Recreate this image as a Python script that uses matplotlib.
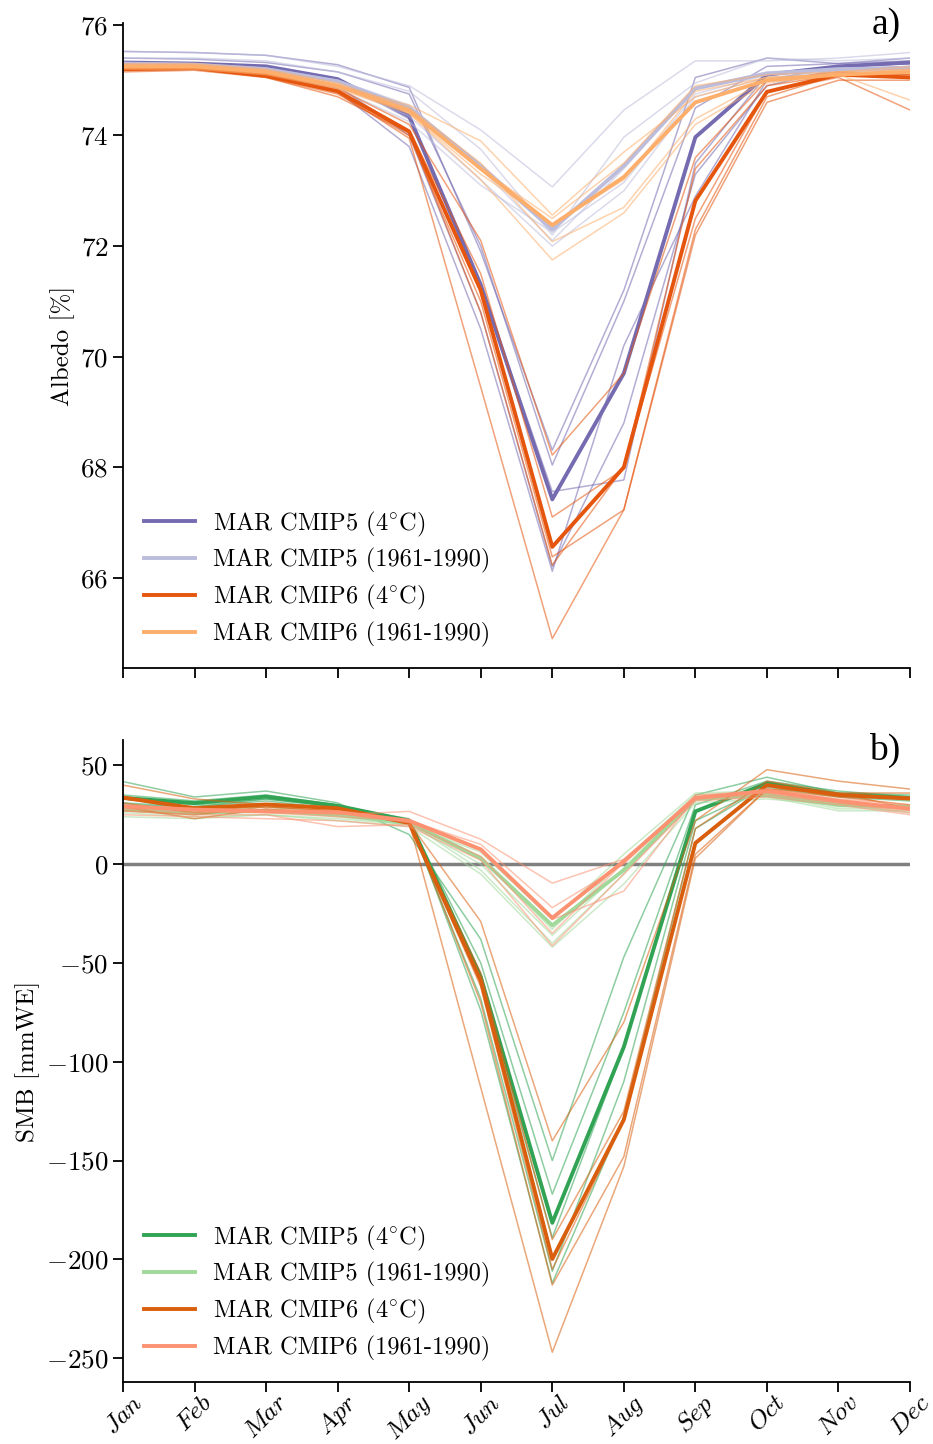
import matplotlib
matplotlib.use("Agg")
import matplotlib.pyplot as plt
import numpy as np

plt.rcParams['font.family'] = ['cmr10']
plt.rcParams['mathtext.fontset'] = 'cm'
plt.rcParams['axes.formatter.use_mathtext'] = True
plt.rcParams['axes.unicode_minus'] = True

months = ['Jan', 'Feb', 'Mar', 'Apr', 'May', 'Jun', 'Jul', 'Aug', 'Sep', 'Oct', 'Nov', 'Dec']

# ---------------- Albedo (panel a) ----------------
alb_c5_fut_mean = [75.32, 75.30, 75.25, 75.02, 74.35, 71.30, 67.42, 69.70, 73.97, 75.10, 75.25, 75.32]
alb_c5_hist_mean = [75.30, 75.28, 75.20, 74.98, 74.50, 73.45, 72.30, 73.45, 74.85, 75.12, 75.20, 75.22]
alb_c6_fut_mean = [75.20, 75.22, 75.08, 74.80, 74.07, 71.20, 66.56, 68.00, 72.82, 74.79, 75.10, 75.05]
alb_c6_hist_mean = [75.25, 75.25, 75.15, 74.90, 74.45, 73.40, 72.38, 73.25, 74.60, 75.00, 75.10, 75.15]

alb_c5_fut_models = [
    [75.52, 75.50, 75.45, 75.28, 74.87, 71.90, 68.31, 71.20, 75.05, 75.40, 75.30, 75.35],
    [75.40, 75.38, 75.32, 75.15, 74.75, 72.00, 68.04, 71.00, 74.50, 75.25, 75.30, 75.40],
    [75.30, 75.28, 75.22, 75.00, 74.30, 71.30, 67.56, 67.77, 73.50, 75.10, 75.25, 75.30],
    [75.25, 75.25, 75.18, 74.90, 74.00, 70.80, 66.20, 68.80, 73.30, 74.90, 75.20, 75.25],
    [75.20, 75.20, 75.12, 74.80, 73.80, 70.50, 66.12, 70.20, 72.90, 75.00, 75.25, 75.30],
]
alb_c5_hist_models = [
    [75.52, 75.50, 75.45, 75.25, 74.90, 74.10, 73.07, 74.46, 75.35, 75.35, 75.40, 75.50],
    [75.40, 75.40, 75.35, 75.15, 74.80, 73.75, 72.20, 73.97, 74.95, 75.40, 75.35, 75.40],
    [75.32, 75.30, 75.22, 75.00, 74.55, 73.40, 72.10, 73.40, 74.85, 75.15, 75.20, 75.25],
    [75.25, 75.25, 75.15, 74.90, 74.35, 73.20, 72.00, 73.00, 74.70, 75.05, 75.15, 75.15],
    [75.20, 75.20, 75.10, 74.85, 74.25, 73.10, 72.25, 73.15, 74.75, 75.10, 75.15, 75.20],
]
alb_c6_fut_models = [
    [75.25, 75.25, 75.12, 74.85, 74.20, 72.10, 68.22, 69.70, 73.60, 75.00, 75.15, 75.10],
    [75.22, 75.22, 75.10, 74.82, 74.10, 71.50, 67.10, 67.97, 73.40, 74.90, 75.10, 75.05],
    [75.18, 75.20, 75.05, 74.75, 74.00, 71.00, 66.38, 67.23, 72.20, 74.60, 75.00, 75.00],
    [75.15, 75.18, 75.05, 74.70, 74.05, 70.80, 66.23, 68.00, 72.50, 74.80, 75.05, 74.46],
    [75.20, 75.22, 75.08, 74.78, 73.95, 69.45, 64.90, 67.23, 72.30, 74.70, 75.10, 75.10],
]
alb_c6_hist_models = [
    [75.25, 75.25, 75.15, 74.90, 74.55, 73.90, 72.56, 73.70, 74.70, 75.05, 75.10, 74.64],
    [75.30, 75.30, 75.20, 74.95, 74.50, 73.50, 72.08, 72.70, 74.30, 75.00, 75.15, 75.20],
    [75.20, 75.20, 75.10, 74.85, 74.40, 73.20, 71.75, 72.60, 74.20, 74.95, 75.10, 75.15],
    [75.22, 75.22, 75.12, 74.88, 74.40, 73.30, 72.40, 73.20, 74.80, 75.05, 75.10, 75.20],
    [75.28, 75.28, 75.18, 74.92, 74.45, 73.40, 72.50, 73.50, 74.90, 75.10, 75.15, 75.25],
]

# ---------------- SMB (panel b) ----------------
smb_c5_fut_mean = [33.5, 30.9, 34.2, 29.5, 22.0, -57.0, -181.5, -92.5, 26.7, 40.9, 35.2, 33.5]
smb_c5_hist_mean = [28.0, 26.0, 27.0, 25.0, 21.0, 3.0, -31.0, -3.0, 33.0, 35.0, 30.0, 29.0]
smb_c6_fut_mean = [33.7, 28.3, 30.2, 28.3, 20.8, -59.0, -199.8, -129.3, 10.7, 40.0, 35.0, 33.2]
smb_c6_hist_mean = [29.2, 27.6, 26.7, 26.3, 22.0, 7.5, -27.2, 1.5, 33.5, 37.0, 32.0, 28.0]

smb_c5_fut_models = [
    [41.8, 34.0, 37.0, 31.0, 15.0, -38.0, -150.0, -47.0, 35.0, 44.0, 36.0, 35.0],
    [35.0, 32.0, 35.0, 30.0, 22.0, -50.0, -167.0, -75.0, 30.0, 42.0, 37.0, 34.0],
    [33.0, 30.0, 33.0, 29.0, 22.0, -60.0, -189.0, -93.0, 27.0, 40.0, 35.0, 33.0],
    [31.0, 29.0, 32.0, 28.0, 21.0, -68.0, -206.0, -110.0, 22.0, 39.0, 34.0, 32.0],
    [30.0, 29.0, 33.0, 29.0, 23.0, -74.0, -212.0, -128.0, 18.0, 40.0, 35.0, 33.0],
]
smb_c5_hist_models = [
    [26.0, 24.0, 25.0, 23.0, 20.0, 6.0, -28.0, 5.0, 36.0, 37.0, 30.0, 30.0],
    [28.0, 26.0, 27.0, 25.0, 21.0, 3.0, -33.0, 2.0, 35.0, 36.0, 29.0, 29.0],
    [27.0, 25.0, 27.0, 24.0, 20.0, 0.0, -36.0, -2.0, 34.0, 35.0, 28.0, 28.0],
    [29.0, 27.0, 29.0, 26.0, 21.0, -3.0, -40.0, -5.0, 33.0, 34.0, 27.0, 27.0],
    [24.0, 23.0, 25.0, 22.0, 19.0, -5.0, -42.0, -10.0, 31.0, 33.0, 30.0, 26.0],
]
smb_c6_fut_models = [
    [40.0, 33.0, 30.0, 28.0, 21.0, -29.0, -140.0, -80.0, 22.0, 47.8, 42.0, 38.0],
    [33.0, 28.0, 29.0, 27.0, 21.0, -55.0, -190.0, -125.0, 18.0, 42.0, 36.0, 36.0],
    [31.0, 26.0, 30.0, 28.0, 21.0, -62.0, -205.0, -130.0, 10.0, 40.0, 35.0, 34.0],
    [29.0, 23.0, 28.0, 26.0, 22.0, -70.0, -213.0, -148.0, 5.0, 38.0, 34.0, 30.0],
    [27.0, 25.0, 29.0, 27.0, 21.0, -113.0, -247.0, -153.0, 3.0, 38.0, 36.0, 28.0],
]
smb_c6_hist_models = [
    [30.0, 28.0, 27.0, 25.0, 26.7, 12.6, -9.6, 2.5, 33.0, 38.0, 33.0, 30.0],
    [29.0, 27.0, 26.0, 24.0, 22.0, 10.0, -22.0, 0.0, 35.0, 37.0, 32.0, 29.0],
    [28.0, 26.0, 27.0, 26.0, 21.0, 7.0, -28.0, -13.6, 34.0, 36.0, 31.0, 27.0],
    [27.0, 25.0, 25.0, 19.0, 20.0, 4.0, -35.0, 1.0, 33.0, 35.0, 31.0, 26.0],
    [25.0, 24.0, 23.0, 22.0, 19.0, 2.0, -41.3, -5.0, 32.0, 34.0, 30.0, 25.0],
]

labels = ['MAR CMIP5 (4$^{\\circ}$C)', 'MAR CMIP5 (1961-1990)',
          'MAR CMIP6 (4$^{\\circ}$C)', 'MAR CMIP6 (1961-1990)']
colors_a = ['#756bb1', '#bcbddc', '#e6550d', '#fdae6b']
colors_b = ['#31a354', '#a1d99b', '#d95f0e', '#fc9272']

FS_LEG = 17.6
FS_TICK = 19.5
FS_XT = 18.5
FS_LAB = 18
x = np.arange(len(months))

fig = plt.figure(figsize=(9.33, 14.44), dpi=100)
ax1 = fig.add_axes([0.1318, 0.5374, 0.8436, 0.4465])
ax2 = fig.add_axes([0.1318, 0.0430, 0.8436, 0.4445])


def draw(ax, groups, colors):
    for (models, mean), c, lab in zip(groups, colors, labels):
        for m in models:
            ax.plot(x, m, color=c, lw=1.1, alpha=0.55)
        ax.plot(x, mean, color=c, lw=2.8, label=lab)


ga = [(alb_c5_fut_models, alb_c5_fut_mean), (alb_c5_hist_models, alb_c5_hist_mean),
      (alb_c6_fut_models, alb_c6_fut_mean), (alb_c6_hist_models, alb_c6_hist_mean)]
gb = [(smb_c5_fut_models, smb_c5_fut_mean), (smb_c5_hist_models, smb_c5_hist_mean),
      (smb_c6_fut_models, smb_c6_fut_mean), (smb_c6_hist_models, smb_c6_hist_mean)]

ax2.axhline(0, color='#808080', lw=2.5, zorder=1)
draw(ax1, ga, colors_a)
draw(ax2, gb, colors_b)

for ax in (ax1, ax2):
    ax.set_xlim(0, 11)
    ax.set_xticks(x)
    ax.spines['top'].set_visible(False)
    ax.spines['right'].set_visible(False)
    for s in ('left', 'bottom'):
        ax.spines[s].set_linewidth(1.3)
    ax.tick_params(direction='out', length=7, width=1.3, labelsize=FS_TICK)
    ax.legend(loc='lower left', frameon=False, fontsize=FS_LEG,
              handlelength=2.1, handletextpad=0.75, labelspacing=0.4,
              borderaxespad=0.45)

ax1.set_ylim(64.37, 76.03)
ax1.set_yticks([66, 68, 70, 72, 74, 76])
ax1.set_xticklabels([])
ax1.set_ylabel('Albedo [%]', fontsize=FS_LAB)

ax2.set_ylim(-262, 62.8)
ax2.set_yticks([-250, -200, -150, -100, -50, 0, 50])
ax2.set_xticklabels(['$\\mathit{' + m + '}$' for m in months], rotation=45,
                    ha='center', fontsize=FS_XT)
ax2.tick_params(axis='x', pad=-1)
ax2.set_ylabel('SMB [mmWE]', fontsize=FS_LAB)

ax1.text(0.988, 0.998, 'a)', transform=ax1.transAxes, ha='right', va='center',
         fontsize=27, family='Liberation Serif')
ax2.text(0.988, 0.984, 'b)', transform=ax2.transAxes, ha='right', va='center',
         fontsize=27, family='Liberation Serif')

fig.savefig('out.png', dpi=100)
